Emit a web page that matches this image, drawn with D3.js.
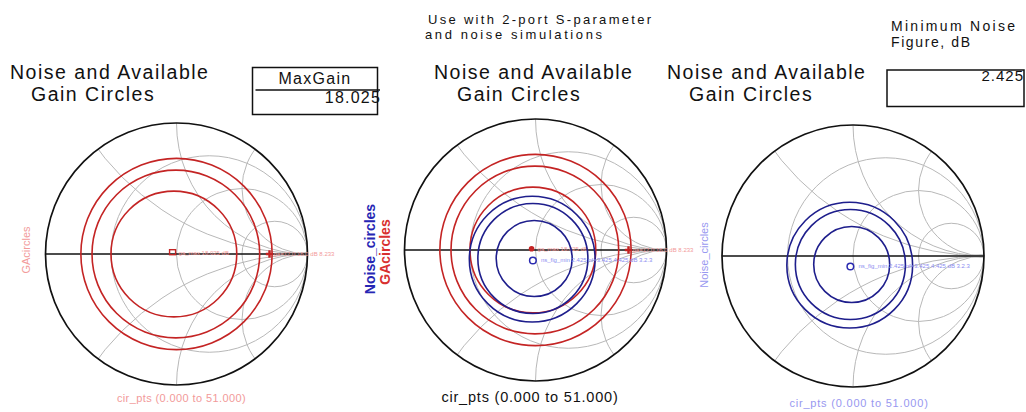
<!DOCTYPE html>
<html>
<head>
<meta charset="utf-8">
<script src="https://cdn.jsdelivr.net/npm/d3@7"></script>
<style>
  body { margin: 0; background: #fff; }
  svg { display: block; }
  text { font-family: "Liberation Sans", Arial, sans-serif; }
</style>
</head>
<body>
<script>
const w = 1026;
const h = 412;

// Smith chart grid values
const resistances = [1 / 3, 1, 3];
const reactances = [0.5, 1, 2];

// available gain circles, reflection coefficient plane
const gaCenterRe = [0.0, -0.005, -0.02];
const gaCenterIm = [0.0, 0.0, 0.0];
const gaRadius = [0.73, 0.64, 0.48];

// noise figure circles
const nsCenterRe = [-0.025, -0.02, -0.01];
const nsCenterIm = [-0.07, -0.065, -0.065];
const nsRadius = [0.48, 0.42, 0.29];

const gaMarker = [-0.03, 0.01];
const nsMarker = [-0.02, -0.08];
const gaEdge = 0.71;

const maxGain = "18.025";
const nfMin = "2.425";

const gaCircles = gaRadius.map((r, i) => ({ re: gaCenterRe[i], im: gaCenterIm[i], r: r }));
const nsCircles = nsRadius.map((r, i) => ({ re: nsCenterRe[i], im: nsCenterIm[i], r: r }));

let svg = d3.select("body")
            .append("svg")
            .attr("width", w)
            .attr("height", h);

const R = 131;
const charts = [
  { cx: 176.5, cy: 254, ga: true,  ns: false },
  { cx: 535.5, cy: 250, ga: true,  ns: true },
  { cx: 853,   cy: 256, ga: false, ns: true }
];

const red = "#c42424";
const blue = "#1e1e8c";

function drawSmith(c, i) {
  let x = d3.scaleLinear().domain([-1, 1]).range([c.cx - R, c.cx + R]);
  let y = d3.scaleLinear().domain([-1, 1]).range([c.cy + R, c.cy - R]);
  let rs = (v) => x(v) - x(0);

  let g = svg.append("g");
  let clipId = "clip" + i;
  svg.append("clipPath").attr("id", clipId)
     .append("circle").attr("cx", x(0)).attr("cy", y(0)).attr("r", rs(1));

  let grid = g.append("g").attr("clip-path", "url(#" + clipId + ")")
              .attr("fill", "none").attr("stroke", "#b8b8b8").attr("stroke-width", 1);

  // constant resistance circles
  grid.selectAll(".rc").data(resistances).enter().append("circle")
      .attr("cx", (r) => x(r / (r + 1)))
      .attr("cy", y(0))
      .attr("r", (r) => rs(1 / (r + 1)));

  // constant reactance arcs (+ and -)
  let xs = reactances.flatMap((v) => [v, -v]);
  grid.selectAll(".xc").data(xs).enter().append("circle")
      .attr("cx", x(1))
      .attr("cy", (v) => y(1 / v))
      .attr("r", (v) => rs(1 / Math.abs(v)));

  // converging lines near the right edge
  grid.append("path")
      .attr("d", d3.line()([[x(0.8), y(0)], [x(1), y(0.018)], [x(1), y(-0.018)]]) + "Z")
      .attr("fill", "#c4c4c4").attr("stroke", "none");

  // outer rim and real axis
  g.append("circle")
   .attr("cx", x(0)).attr("cy", y(0)).attr("r", rs(1))
   .attr("fill", "none").attr("stroke", "#111").attr("stroke-width", 1.7);
  g.append("line")
   .attr("x1", x(-1)).attr("x2", x(1)).attr("y1", y(0)).attr("y2", y(0))
   .attr("stroke", "#111").attr("stroke-width", 1.5);

  if (c.ga) {
    g.append("g").selectAll("circle").data(gaCircles).enter().append("circle")
     .attr("cx", (d) => x(d.re)).attr("cy", (d) => y(d.im)).attr("r", (d) => rs(d.r))
     .attr("fill", "none").attr("stroke", red).attr("stroke-width", 1.6);
    g.append("text").attr("x", x(gaMarker[0]) + 6).attr("y", y(gaMarker[1]) + 2)
     .attr("font-size", 6).attr("fill", "#f29a9a").text("ga_max 18.025 dB");
    g.append("text").attr("x", x(gaEdge) + 4).attr("y", y(0) + 2)
     .attr("font-size", 6).attr("fill", "#f29a9a").text("ga=17.0 16.0 dB 8.233");
    g.append("path")
     .attr("d", d3.symbol(d3.symbolCross, 30)())
     .attr("transform", "translate(" + x(gaEdge) + "," + y(0) + ")")
     .attr("fill", red);
    if (c.ns) {
      g.append("circle").attr("cx", x(gaMarker[0])).attr("cy", y(gaMarker[1])).attr("r", 2.8)
       .attr("fill", red);
    } else {
      g.append("rect").attr("x", x(gaMarker[0]) - 3).attr("y", y(gaMarker[1]) - 3)
       .attr("width", 6).attr("height", 5)
       .attr("fill", "none").attr("stroke", red).attr("stroke-width", 1.4);
    }
  }

  if (c.ns) {
    g.append("g").selectAll("circle").data(nsCircles).enter().append("circle")
     .attr("cx", (d) => x(d.re)).attr("cy", (d) => y(d.im)).attr("r", (d) => rs(d.r))
     .attr("fill", "none").attr("stroke", blue).attr("stroke-width", 1.6);
    g.append("circle").attr("cx", x(nsMarker[0])).attr("cy", y(nsMarker[1])).attr("r", 3.3)
     .attr("fill", "none").attr("stroke", "#2a2ab0").attr("stroke-width", 1.5);
    g.append("text").attr("x", x(nsMarker[0]) + 8).attr("y", y(nsMarker[1]) + 2)
     .attr("font-size", 6).attr("fill", "#8c8cf0").text("ns_fig_min 2.425 nf=3.425 4.425 dB 3.2.3");
  }
  return { x: x, y: y };
}

let scales = charts.map((c, i) => drawSmith(c, i));

// titles
function title(x0, x1) {
  svg.append("text").attr("x", x0).attr("y", 79).attr("font-size", 19.5)
     .attr("letter-spacing", 1.5).attr("fill", "#111")
     .text("Noise and Available");
  svg.append("text").attr("x", x1).attr("y", 101).attr("font-size", 19.5)
     .attr("letter-spacing", 1.5).attr("fill", "#111")
     .text("Gain Circles");
}
title(10, 31);
title(434, 457);
title(667, 689);

// notes
function note(x, y, txt, size, spacing) {
  svg.append("text").attr("x", x).attr("y", y).attr("font-size", size)
     .attr("letter-spacing", spacing).attr("fill", "#111").text(txt);
}
note(428, 24, "Use with 2-port S-parameter", 13, 2.3);
note(425, 38.5, "and noise simulations", 13, 2.6);
note(891, 31, "Minimum Noise", 14, 2.3);
note(891, 46.5, "Figure, dB", 14, 1.6);

// MaxGain box
svg.append("rect").attr("x", 252.5).attr("y", 67.5).attr("width", 125).attr("height", 47)
   .attr("fill", "none").attr("stroke", "#111").attr("stroke-width", 1.5);
svg.append("line").attr("x1", 255.5).attr("x2", 380).attr("y1", 90).attr("y2", 90)
   .attr("stroke", "#111").attr("stroke-width", 1.5);
svg.append("text").attr("x", 315).attr("y", 84).attr("font-size", 16).attr("text-anchor", "middle")
   .attr("letter-spacing", 1.3).attr("fill", "#111").text("MaxGain");
svg.append("text").attr("x", 381).attr("y", 103).attr("font-size", 16).attr("text-anchor", "end")
   .attr("letter-spacing", 1.2).attr("fill", "#111").text(maxGain);

// NFmin box
svg.append("rect").attr("x", 887).attr("y", 70).attr("width", 137).attr("height", 36.5)
   .attr("fill", "none").attr("stroke", "#111").attr("stroke-width", 1.5);
svg.append("text").attr("x", 1024).attr("y", 80.5).attr("font-size", 15).attr("text-anchor", "end")
   .attr("letter-spacing", 1).attr("fill", "#111").text(nfMin);

// axis labels
function vlabel(x, y, txt, size, color, weight) {
  svg.append("text").attr("transform", "translate(" + x + "," + y + ") rotate(-90)")
     .attr("text-anchor", "middle").attr("font-size", size).attr("fill", color)
     .attr("font-weight", weight || "normal").text(txt);
}
vlabel(30, 250, "GAcircles", 11, "#f29a9a");
vlabel(375, 249, "Noise_circles", 14, "#2626b4", "bold");
vlabel(390, 252, "GAcircles", 14, "#d83030", "bold");
vlabel(708, 255, "Noise_circles", 11, "#9898f0");

function xlabel(x, y, size, spacing, color) {
  svg.append("text").attr("x", x).attr("y", y).attr("font-size", size).attr("text-anchor", "middle")
     .attr("letter-spacing", spacing).attr("fill", color).text("cir_pts (0.000 to 51.000)");
}
xlabel(181.5, 401.5, 11, 0.4, "#f29a9a");
xlabel(530, 401.5, 14.5, 0.8, "#111");
xlabel(859, 407, 11, 0.8, "#9898f0");
</script>
</body>
</html>
